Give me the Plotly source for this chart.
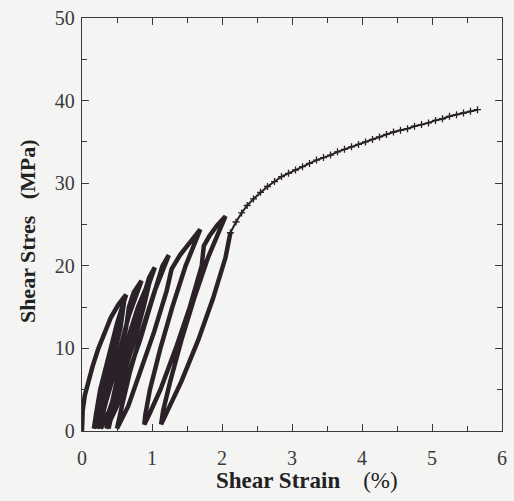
import plotly.graph_objects as go

# Hysteresis path (shear strain %, shear stress MPa)
loop_strain = [
    0.00, 0.01, 0.04, 0.08, 0.15, 0.23, 0.32, 0.41, 0.52, 0.63,
    0.50, 0.38, 0.26, 0.20, 0.17,
    0.23, 0.33, 0.45, 0.55, 0.60,
    0.49, 0.38, 0.29, 0.24, 0.22,
    0.29, 0.40, 0.53, 0.63, 0.67, 0.74, 0.85,
    0.67, 0.54, 0.41, 0.31, 0.27,
    0.39, 0.53, 0.69, 0.83, 0.89, 0.96, 1.04,
    0.84, 0.69, 0.56, 0.44, 0.38,
    0.45, 0.60, 0.75, 0.88, 0.98,
    0.80, 0.65, 0.52, 0.42, 0.35,
    0.50, 0.67, 0.83, 0.97, 1.08, 1.15, 1.24,
    1.04, 0.85, 0.68, 0.57, 0.50,
    0.66, 0.83, 1.03, 1.21, 1.28, 1.40, 1.55, 1.69,
    1.48, 1.29, 1.12, 0.97, 0.905, 0.89,
    0.96, 1.12, 1.34, 1.54, 1.71, 1.74, 1.82, 1.93, 2.05,
    1.80, 1.60, 1.42, 1.26, 1.16, 1.13,
    1.23, 1.42, 1.66, 1.87, 2.05, 2.12,
]
loop_stress = [
    0.0, 2.5, 4.3, 5.6, 7.8, 9.9, 11.9, 13.7, 15.3, 16.5,
    13.0, 9.0, 5.0, 2.0, 0.3,
    2.0, 5.0, 9.0, 12.5, 15.6,
    12.0, 8.0, 4.0, 1.5, 0.3,
    2.0, 5.0, 9.0, 12.5, 15.0, 16.8, 18.2,
    14.0, 10.0, 6.0, 2.5, 0.3,
    2.5, 6.0, 10.0, 14.0, 16.6, 18.6, 19.8,
    15.0, 11.0, 7.0, 3.0, 0.3,
    3.0, 7.0, 11.0, 15.0, 18.6,
    15.0, 11.0, 7.0, 3.0, 0.3,
    3.0, 7.0, 11.0, 15.0, 18.2, 20.0, 21.3,
    17.0, 12.0, 7.0, 3.0, 0.3,
    3.0, 7.0, 12.0, 17.0, 19.6, 21.3, 23.0, 24.4,
    20.0, 15.0, 10.0, 5.0, 2.0, 0.8,
    2.0, 5.0, 10.0, 15.0, 20.0, 22.4, 23.6, 24.9, 26.0,
    21.0, 16.0, 11.0, 6.0, 2.5, 0.8,
    2.5, 6.0, 11.0, 16.0, 21.0, 24.0,
]

# Monotonic tail after the last loop
tail_strain = [2.12, 2.2, 2.28, 2.36, 2.45, 2.55, 2.65, 2.75, 2.85, 2.95, 3.05, 3.15,
               3.25, 3.35, 3.45, 3.55, 3.65, 3.75, 3.85, 3.95, 4.05, 4.15, 4.25, 4.35,
               4.45, 4.55, 4.65, 4.75, 4.85, 4.95, 5.05, 5.15, 5.25, 5.35, 5.45, 5.55, 5.65]
tail_stress = [24.0, 25.3, 26.4, 27.3, 28.1, 28.9, 29.6, 30.2, 30.8, 31.2, 31.6, 32.0,
               32.4, 32.8, 33.1, 33.4, 33.8, 34.1, 34.4, 34.7, 35.0, 35.3, 35.6, 35.9,
               36.2, 36.4, 36.6, 36.9, 37.1, 37.3, 37.6, 37.8, 38.1, 38.3, 38.5, 38.7, 38.9]

x_ticks = [0, 1, 2, 3, 4, 5, 6]
y_ticks = [0, 10, 20, 30, 40, 50]

ink = "#2a2228"
axc = "#3a3a3a"
serif = "Liberation Serif, Times New Roman, serif"

fig = go.Figure()
fig.add_trace(go.Scatter(x=loop_strain, y=loop_stress, mode="lines",
                         line=dict(color=ink, width=4.5),
                         showlegend=False, hoverinfo="skip"))
fig.add_trace(go.Scatter(x=tail_strain, y=tail_stress, mode="lines+markers",
                         line=dict(color=ink, width=2),
                         marker=dict(symbol="cross-thin", size=5,
                                     line=dict(color=ink, width=1.3)),
                         showlegend=False, hoverinfo="skip"))

axis_common = dict(
    showgrid=False, zeroline=False, showline=True, linecolor=axc, linewidth=1.3,
    mirror="ticks", ticks="inside", ticklen=7, tickwidth=1.2, tickcolor=axc,
    tickfont=dict(family=serif, size=20, color="#3a3a3a"),
)
fig.update_xaxes(range=[0, 6], tickvals=x_ticks, ticktext=[str(v) for v in x_ticks],
                 minor=dict(dtick=0.5, ticks="inside", ticklen=5, tickcolor=axc),
                 ticklabelstandoff=9, **axis_common)
fig.update_yaxes(range=[0, 50], tickvals=y_ticks, ticktext=[str(v) for v in y_ticks],
                 minor=dict(dtick=5, ticks="inside", ticklen=5, tickcolor=axc),
                 ticklabelstandoff=2, **axis_common)

fig.add_annotation(text="<b>Shear Strain</b>    (%)", xref="paper", yref="paper",
                   x=(310 - 82) / 425, y=-(481 - 431) / 416, showarrow=False,
                   font=dict(family=serif, size=23, color="#222"), xanchor="center", yanchor="middle")
fig.add_annotation(text="<b>Shear Stres   (MPa)</b>", xref="paper", yref="paper",
                   x=-(82 - 27) / 425, y=(431 - 230) / 416, showarrow=False, textangle=-90,
                   font=dict(family=serif, size=22, color="#222"), xanchor="center", yanchor="middle")

fig.update_layout(
    width=514, height=501,
    margin=dict(l=82, r=7, t=15, b=70),
    paper_bgcolor="#f4f4f2", plot_bgcolor="#f4f4f2",
)
fig.write_html("out.html")
